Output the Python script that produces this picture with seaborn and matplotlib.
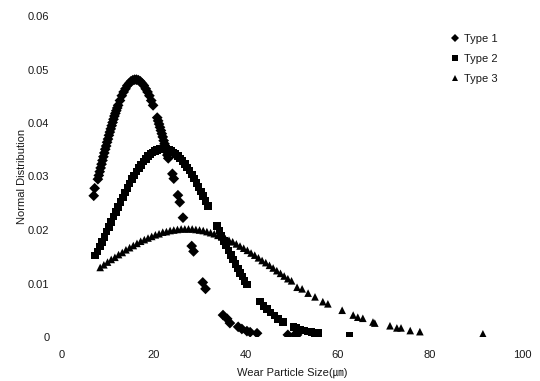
import matplotlib
matplotlib.use("Agg")
import matplotlib.pyplot as plt
import seaborn as sns
import pandas as pd

# ---- data ----
type1_x = [6.9, 7.1, 7.8, 8.0, 8.2, 8.4, 8.6, 8.8, 9.0, 9.2, 9.4, 9.6, 9.8, 10.0, 10.2, 10.4,
           10.6, 10.8, 11.0, 11.2, 11.4, 11.6, 11.8, 12.0, 12.2, 12.6, 13.0, 13.4, 13.8, 14.2,
           14.6, 15.0, 15.4, 15.8, 16.2, 16.6, 17.0, 17.4, 17.8, 18.2, 18.6, 19.0, 19.4, 19.8,
           20.7, 20.9, 21.1, 21.3, 21.5, 21.7, 21.9, 22.1, 22.3, 22.5, 22.7, 22.9, 23.1,
           24.0, 24.3, 25.2, 25.6, 26.3, 28.2, 28.6, 30.6, 31.2,
           35.0, 35.9, 36.5, 38.3, 39.1, 40.2, 40.9, 42.4, 49.1, 50.6, 51.1]
type1_y = [0.0264, 0.0278, 0.0295, 0.0302, 0.0309, 0.0316, 0.0323, 0.0330, 0.0337, 0.0344,
           0.0351, 0.0357, 0.0364, 0.0370, 0.0377, 0.0383, 0.0389, 0.0395, 0.0401, 0.0407,
           0.0413, 0.0418, 0.0423, 0.0428, 0.0433, 0.0442, 0.0451, 0.0458, 0.0464, 0.0470,
           0.0474, 0.0478, 0.0480, 0.0481, 0.0481, 0.0480, 0.0478, 0.0474, 0.0470, 0.0464,
           0.0458, 0.0451, 0.0442, 0.0433,
           0.0410, 0.0404, 0.0398, 0.0392, 0.0386, 0.0380, 0.0374, 0.0367, 0.0361, 0.0354,
           0.0347, 0.0340, 0.0334,
           0.0305, 0.0296, 0.0265, 0.0252, 0.0223, 0.0170, 0.0160, 0.0102, 0.0090,
           0.0041, 0.0034, 0.0026, 0.0019, 0.0015, 0.0011, 0.0009, 0.0007, 0.0004, 0.0004, 0.0004]

type2_x = [7.2, 7.7, 8.2, 8.7, 9.2, 9.7, 10.2, 10.7, 11.2, 11.7, 12.2, 12.7, 13.2, 13.7, 14.2,
           14.7, 15.2, 15.7, 16.2, 16.7, 17.2, 17.7, 18.2, 18.7, 19.2, 19.7, 20.2, 20.7, 21.2,
           21.7, 22.2, 22.7, 23.2, 23.7, 24.2, 24.7, 25.2, 25.7, 26.2, 26.7, 27.2, 27.7, 28.2,
           28.7, 29.2, 29.7, 30.2, 30.7, 31.2, 31.7,
           33.7, 34.2, 34.7, 35.2, 35.7, 36.2, 36.7, 37.2, 37.7, 38.2, 38.7, 39.2, 39.7, 40.2,
           43.0, 43.8, 44.5, 45.3, 46.2, 47.0, 48.0, 50.3, 51.0, 51.8, 52.6, 53.4, 54.2, 55.0,
           55.8, 62.5]
type2_y = [0.0152, 0.0160, 0.0169, 0.0178, 0.0187, 0.0197, 0.0206, 0.0215, 0.0225, 0.0234,
           0.0243, 0.0252, 0.0261, 0.0270, 0.0279, 0.0287, 0.0295, 0.0302, 0.0309, 0.0316,
           0.0322, 0.0328, 0.0333, 0.0338, 0.0342, 0.0345, 0.0348, 0.0350, 0.0351, 0.0352,
           0.0352, 0.0351, 0.0350, 0.0348, 0.0345, 0.0342, 0.0338, 0.0334, 0.0329, 0.0323,
           0.0317, 0.0311, 0.0304, 0.0296, 0.0288, 0.0280, 0.0272, 0.0263, 0.0254, 0.0245,
           0.0208, 0.0199, 0.0189, 0.0180, 0.0171, 0.0162, 0.0153, 0.0145, 0.0136, 0.0128,
           0.0120, 0.0113, 0.0105, 0.0098,
           0.0066, 0.0058, 0.0052, 0.0046, 0.0040, 0.0034, 0.0028, 0.0019, 0.0017, 0.0014,
           0.0012, 0.0010, 0.0009, 0.0008, 0.0007, 0.0002]

type3_x = [8.3, 9.1, 9.9, 10.7, 11.5, 12.3, 13.1, 13.9, 14.7, 15.5, 16.3, 17.1, 17.9, 18.7,
           19.5, 20.3, 21.1, 21.9, 22.7, 23.5, 24.3, 25.1, 25.9, 26.7, 27.5, 28.3, 29.1, 29.9,
           30.7, 31.5, 32.3, 33.1, 33.9, 34.7, 35.5, 36.3, 37.1, 37.9, 38.7, 39.5, 40.3, 41.1,
           41.9, 42.7, 43.5, 44.3, 45.1, 45.9, 46.7, 47.5, 48.3, 49.1, 49.9,
           51.1, 52.2, 53.5, 55.0, 56.7, 57.8, 60.9, 63.3, 64.3, 65.4, 67.6, 68.0, 71.3, 72.8,
           73.7, 75.7, 77.8, 91.5]
type3_y = [0.0130, 0.0135, 0.0140, 0.0145, 0.0149, 0.0154, 0.0158, 0.0163, 0.0167, 0.0171,
           0.0175, 0.0179, 0.0182, 0.0185, 0.0188, 0.0191, 0.0193, 0.0196, 0.0197, 0.0199,
           0.0200, 0.0201, 0.0202, 0.0202, 0.0202, 0.0202, 0.0201, 0.0200, 0.0199, 0.0197,
           0.0195, 0.0193, 0.0190, 0.0187, 0.0184, 0.0181, 0.0178, 0.0174, 0.0170, 0.0166,
           0.0162, 0.0157, 0.0153, 0.0148, 0.0143, 0.0139, 0.0134, 0.0129, 0.0124, 0.0119,
           0.0114, 0.0109, 0.0105,
           0.0093, 0.0090, 0.0082, 0.0075, 0.0066, 0.0062, 0.0050, 0.0041, 0.0037, 0.0035,
           0.0028, 0.0026, 0.0021, 0.0017, 0.0017, 0.0012, 0.0010, 0.0006]

series_names = ["Type 1", "Type 2", "Type 3"]
x_ticks = [0, 20, 40, 60, 80, 100]
y_ticks = [0, 0.01, 0.02, 0.03, 0.04, 0.05, 0.06]
y_tick_labels = ["0", "0.01", "0.02", "0.03", "0.04", "0.05", "0.06"]

# ---- build long table ----
frames = []
for name, xs, ys in zip(series_names, [type1_x, type2_x, type3_x], [type1_y, type2_y, type3_y]):
    frames.append(pd.DataFrame({"size": xs, "dist": ys, "Type": name}))
df = pd.concat(frames, ignore_index=True)

sns.set_style("white")
plt.rcParams["font.family"] = ["Liberation Sans", "DejaVu Sans", "Noto Sans CJK JP"]
text_color = "#1a1a1a"

fig = plt.figure(figsize=(5.4, 3.81), dpi=100)
ax = fig.add_axes([62 / 540, 1 - 337 / 381, 460 / 540, 321 / 381])

sns.scatterplot(data=df, x="size", y="dist", style="Type",
                markers={"Type 1": "D", "Type 2": "s", "Type 3": "^"},
                color="black", s=30, linewidth=0, ax=ax, legend=True)

ax.set_xlim(0, 100)
ax.set_ylim(0, 0.06)
ax.set_xticks(x_ticks)
ax.set_xticklabels([str(v) for v in x_ticks])
ax.set_yticks(y_ticks)
ax.set_yticklabels(y_tick_labels)
ax.tick_params(axis="both", length=0, labelsize=8, colors=text_color)
ax.tick_params(axis="x", pad=9)
ax.tick_params(axis="y", pad=9)
for sp in ax.spines.values():
    sp.set_visible(False)
ax.grid(False)

ax.set_xlabel("Wear Particle Size(㎛)", fontsize=8, color=text_color, labelpad=6)
ax.set_ylabel("Normal Distribution", fontsize=8, color=text_color, labelpad=1)

handles, labels = ax.get_legend_handles_labels()
ax.legend(handles, labels, loc="upper left",
          bbox_to_anchor=(450 / 540, 1 - 34 / 381), bbox_transform=fig.transFigure,
          frameon=False, fontsize=8, handlelength=0.9, handletextpad=0.4, markerscale=0.75,
          borderpad=0, borderaxespad=0, labelspacing=0.9, labelcolor=text_color)

fig.savefig("out.png", dpi=100)
